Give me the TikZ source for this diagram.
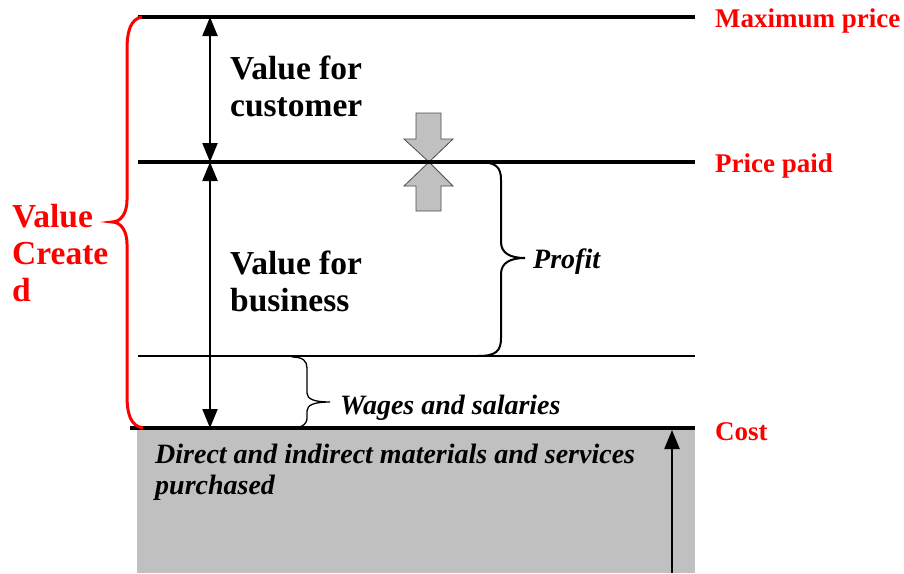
\documentclass[tikz,border=0pt]{standalone}
\usepackage{fontspec}
\setmainfont{Liberation Serif}
\usetikzlibrary{arrows.meta}
\definecolor{boxgray}{HTML}{C0C0C0}
\definecolor{vred}{HTML}{FF0000}
\tikzset{
  bigtext/.style={font=\fontsize{33.5}{36.5}\selectfont\bfseries, inner sep=0pt, anchor=base west, align=left},
  redlabel/.style={font=\fontsize{27}{30}\selectfont\bfseries, text=vred, inner sep=0pt, anchor=base west},
  itlabel/.style={font=\fontsize{28}{31}\selectfont\bfseries\itshape, inner sep=0pt, anchor=base west, align=left},
  level/.style={line width=4pt},
  thinlevel/.style={line width=2pt},
  dimarrow/.style={line width=2.2pt, {Triangle[width=15pt,length=19pt]}-{Triangle[width=15pt,length=19pt]}},
  uparrow/.style={line width=2.2pt, -{Triangle[width=15pt,length=19pt]}},
  brace/.style={line width=2pt, black},
  redbrace/.style={line width=3pt, vred},
  grayarrow/.style={fill=boxgray, draw=black!70, line width=0.8pt, line join=miter},
}
\begin{document}
\begin{tikzpicture}[x=1pt,y=-1pt]
\useasboundingbox (0,0) rectangle (904,573);
% gray cost area
\fill[boxgray] (137,428) rectangle (695,573);
% coordinates
\coordinate (topL) at (138,17);  \coordinate (topR) at (695,17);
\coordinate (ppL) at (138,162);  \coordinate (ppR) at (695,162);
\coordinate (wgL) at (138,356);  \coordinate (wgR) at (695,356);
\coordinate (cL) at (130,428);   \coordinate (cR) at (695,428);
\coordinate (a1) at (210,17); \coordinate (a2) at (210,162); \coordinate (a3) at (210,428);
\coordinate (b1) at (672,573); \coordinate (b2) at (672,430);
% gray squeeze arrows
\draw[grayarrow] (416,113) -- (441,113) -- (441,139) -- (453,139) -- (429,162) -- (404,139) -- (416,139) -- cycle;
\draw[grayarrow] (429,162) -- (453,186) -- (441,186) -- (441,211) -- (416,211) -- (416,186) -- (404,186) -- cycle;
% level lines
\draw[level] (topL) -- (topR);
\draw[level] (ppL) -- (ppR);
\draw[thinlevel] (wgL) -- (wgR);
\draw[line width=3.5pt] (cL) -- (cR);
% dimension arrows
\draw[dimarrow] (a1) -- (a2);
\draw[dimarrow] (a2) -- (a3);
\draw[uparrow] (b1) -- (b2);
% profit brace
\draw[brace] (478,162) .. controls (496,162) and (501,167) .. (501,180) -- (501,242)
  .. controls (501,253) and (510,258) .. (525,258)
  .. controls (510,258) and (501,263) .. (501,274) -- (501,338)
  .. controls (501,351) and (496,356) .. (478,356);
% wages brace
\draw[brace, line width=1.3pt] (292,357) .. controls (303,357) and (307,361) .. (307,368) -- (307,393)
  .. controls (307,399) and (314,402) .. (330,402)
  .. controls (314,402) and (307,405) .. (307,411) -- (307,418)
  .. controls (307,425) and (300,429) .. (286,429);
% red brace
\draw[redbrace] (142,17) .. controls (131,19) and (127,30) .. (127,50) -- (127,200)
  .. controls (127,213) and (121,222) .. (112,222)
  .. controls (121,222) and (127,231) .. (127,244) -- (127,395)
  .. controls (127,415) and (131,426) .. (143,428);
% texts (anchor = baseline of last line)
\node[bigtext] (vc) at (230,116) {Value for\\customer};
\node[bigtext] (vb) at (230,311) {Value for\\business};
\node[bigtext, text=vred, font=\fontsize{33.5}{37}\selectfont\bfseries] (vcr) at (12,301) {Value\\Create\\d};
\node[redlabel] (mp) at (715,27) {Maximum price};
\node[redlabel] (pp) at (715,172) {Price paid};
\node[redlabel] (co) at (715,440) {Cost};
\node[itlabel] (pr) at (533,268) {Profit};
\node[itlabel] (ws) at (340,414) {Wages and salaries};
\node[itlabel] (dm) at (155,494) {Direct and indirect materials and services\\purchased};
\end{tikzpicture}
\end{document}
